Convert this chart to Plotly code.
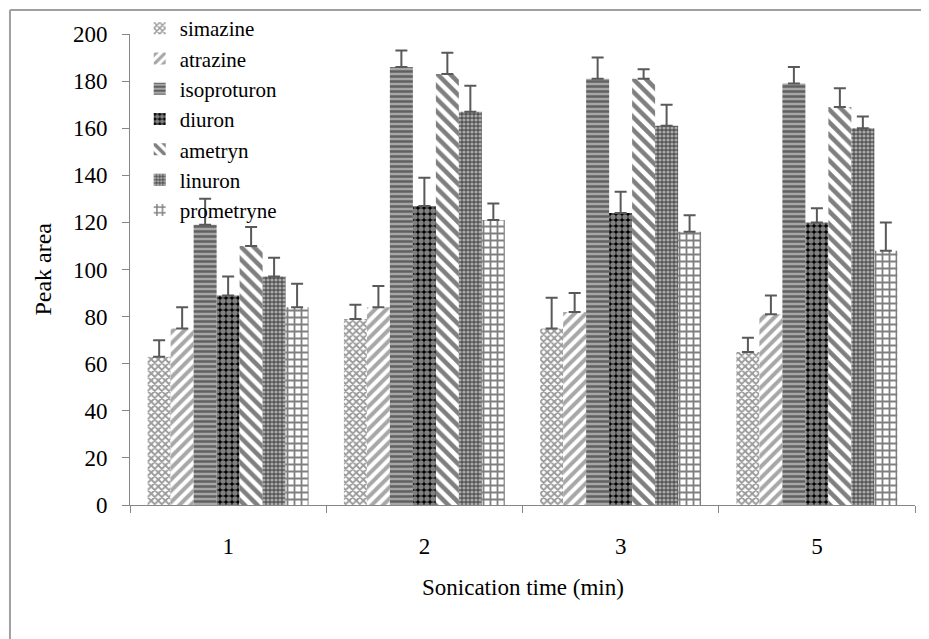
import plotly.graph_objects as go

categories = ["1", "2", "3", "5"]
series_names = ["simazine", "atrazine", "isoproturon", "diuron", "ametryn", "linuron", "prometryne"]
simazine = [63, 79, 75, 65]
atrazine = [75, 84, 82, 81]
isoproturon = [119, 186, 181, 179]
diuron = [89, 127, 124, 120]
ametryn = [110, 183, 181, 169]
linuron = [97, 167, 161, 160]
prometryne = [84, 121, 116, 108]
err_simazine = [7, 6, 13, 6]
err_atrazine = [9, 9, 8, 8]
err_isoproturon = [11, 7, 9, 7]
err_diuron = [8, 12, 9, 6]
err_ametryn = [8, 9, 4, 8]
err_linuron = [8, 11, 9, 5]
err_prometryne = [10, 7, 7, 12]
y_ticks = [0, 20, 40, 60, 80, 100, 120, 140, 160, 180, 200]

values = [simazine, atrazine, isoproturon, diuron, ametryn, linuron, prometryne]
errors = [err_simazine, err_atrazine, err_isoproturon, err_diuron, err_ametryn, err_linuron, err_prometryne]

patterns = [
    dict(shape="x", fgcolor="#333333", bgcolor="white", size=5, solidity=0.6),
    dict(shape="/", fgcolor="#505050", bgcolor="white", size=8, solidity=0.5),
    dict(shape="-", fgcolor="#1a1a1a", bgcolor="#a6a6a6", size=5, solidity=0.5),
    dict(shape=".", fgcolor="white", bgcolor="black", size=6, solidity=0.65),
    dict(shape="\\", fgcolor="black", bgcolor="white", size=9, solidity=0.5),
    dict(shape=".", fgcolor="white", bgcolor="#555555", size=4, solidity=0.5),
    dict(shape="+", fgcolor="black", bgcolor="white", size=7, solidity=0.45),
]

fig = go.Figure()
for name, v, e, p in zip(series_names, values, errors, patterns):
    fig.add_trace(go.Bar(
        name=name, x=categories, y=v,
        marker=dict(color="white", line=dict(width=0), pattern=p),
        error_y=dict(type="data", array=e, arrayminus=[0] * len(e), symmetric=False,
                     color="#595959", thickness=2, width=6),
    ))

font_family = "Liberation Serif, Times New Roman, serif"
fig.update_layout(
    width=921, height=631,
    barmode="group", bargap=0.18, bargroupgap=0,
    paper_bgcolor="white", plot_bgcolor="white",
    margin=dict(l=122, r=14, t=26, b=134, autoexpand=False),
    font=dict(family=font_family, size=23, color="black"),
    showlegend=True,
    legend=dict(xref="container", yref="container", x=0.143, y=1.012,
                xanchor="left", yanchor="top",
                bgcolor="rgba(0,0,0,0)", font=dict(size=21), tracegroupgap=0,
                itemwidth=30),
    xaxis=dict(
        automargin=False,
        showline=True, linecolor="#868686", linewidth=1,
        ticks="outside", tickson="boundaries", ticklen=7, tickcolor="#868686",
        ticklabelstandoff=20,
        showgrid=False, tickfont=dict(size=23),
    ),
    yaxis=dict(
        automargin=False,
        range=[0, 200], tickvals=y_ticks,
        showline=True, linecolor="#868686", linewidth=1,
        ticks="outside", ticklen=7, tickcolor="#868686",
        ticklabelstandoff=10,
        showgrid=False, zeroline=False, tickfont=dict(size=23),
    ),
    annotations=[
        dict(text="Sonication time (min)", xref="paper", yref="paper", x=0.5, y=-0.176,
             xanchor="center", yanchor="middle", showarrow=False, font=dict(size=23)),
        dict(text="Peak area", xref="paper", yref="paper", x=-0.112, y=0.5, textangle=-90,
             xanchor="center", yanchor="middle", showarrow=False, font=dict(size=24)),
    ],
    shapes=[
        dict(type="line", xref="paper", yref="paper", x0=-0.1529, x1=1.1, y0=1.051, y1=1.051,
             line=dict(color="#a0a0a0", width=2)),
        dict(type="line", xref="paper", yref="paper", x0=-0.1529, x1=-0.1529, y0=1.051, y1=-0.4,
             line=dict(color="#a0a0a0", width=2)),
    ],
)
fig.write_html("out.html")
